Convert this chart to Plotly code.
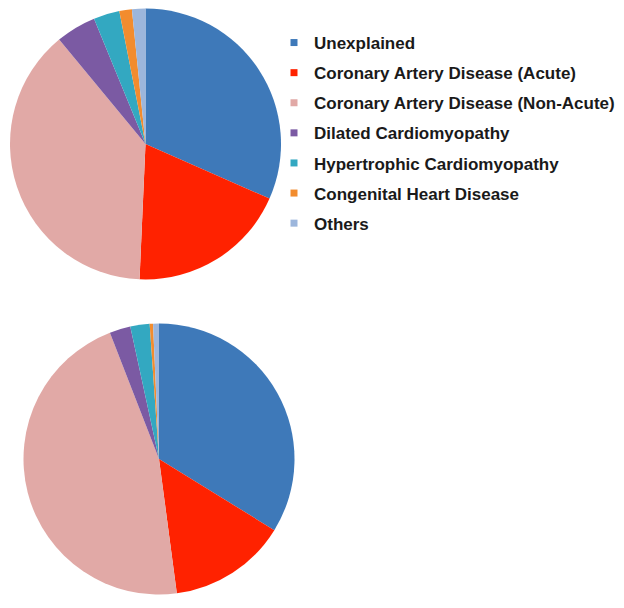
import plotly.graph_objects as go

categories = ["Unexplained", "Coronary Artery Disease (Acute)", "Coronary Artery Disease (Non-Acute)",
              "Dilated Cardiomyopathy", "Hypertrophic Cardiomyopathy", "Congenital Heart Disease", "Others"]
top_values = [31.6, 19.1, 38.3, 4.8, 3.1, 1.5, 1.6]
bottom_values = [33.8, 14.1, 46.2, 2.5, 2.3, 0.4, 0.7]
colors = ["#3E79B9", "#FF2200", "#E1A9A6", "#7B5AA3", "#33A8C1", "#F28C2E", "#9CB6DC"]

# page has an 8px body margin; figure is offset by it
OFF = 8
W, H = 624 - OFF, 608 - OFF

def dom(cx, cy, r):
    cx -= OFF
    cy -= OFF
    y0 = max(0.0, 1 - (cy + r) / H)
    y1 = min(1.0, 1 - (cy - r) / H)
    x0 = max(0.0, (cx - r) / W)
    x1 = min(1.0, (cx + r) / W)
    return dict(x=[x0, x1], y=[y0, y1])

fig = go.Figure()
fig.add_trace(go.Pie(labels=categories, values=top_values, sort=False, direction="clockwise",
                     rotation=0, textinfo="none", hoverinfo="label+percent",
                     marker=dict(colors=colors, line=dict(width=0)),
                     domain=dom(145.5, 144, 135.5), showlegend=False))
fig.add_trace(go.Pie(labels=categories, values=bottom_values, sort=False, direction="clockwise",
                     rotation=0, textinfo="none", hoverinfo="label+percent",
                     marker=dict(colors=colors, line=dict(width=0)),
                     domain=dom(159, 459, 135.5), showlegend=False))

for name, c in zip(categories, colors):
    fig.add_trace(go.Scatter(x=[None], y=[None], mode="markers", name="<b>" + name + "</b>",
                             legendgroup=name,
                             marker=dict(symbol="square", size=7, color=c), showlegend=True,
                             hoverinfo="skip"))

fig.update_layout(
    width=W, height=H,
    margin=dict(l=0, r=0, t=0, b=0),
    paper_bgcolor="white", plot_bgcolor="white",
    xaxis=dict(visible=False), yaxis=dict(visible=False),
    legend=dict(x=(274 - OFF) / W, y=1 - (25 - OFF) / H, xanchor="left", yanchor="top",
                traceorder="grouped", tracegroupgap=5,
                font=dict(family="Liberation Sans, Arial, sans-serif", size=17, color="#1a1a1a"),
                bgcolor="rgba(0,0,0,0)", itemwidth=30),
    font=dict(family="Liberation Sans, Arial, sans-serif"),
)

fig.write_html("out.html")
